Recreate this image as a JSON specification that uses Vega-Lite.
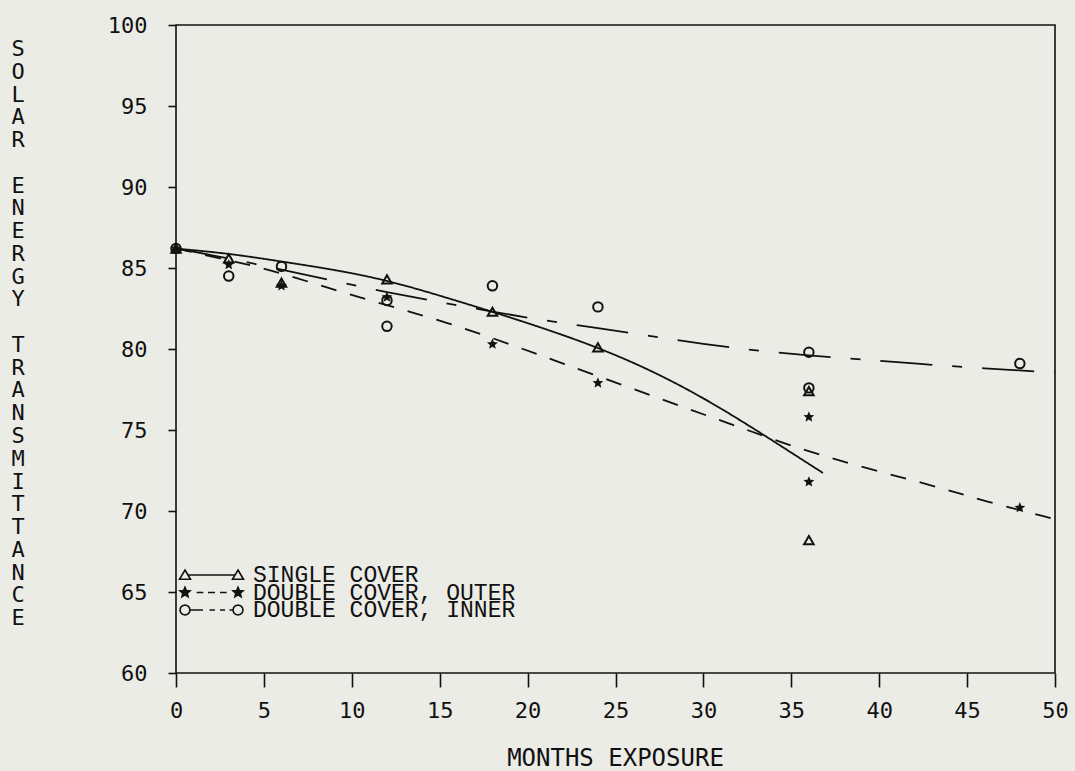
{
  "$schema": "https://vega.github.io/schema/vega-lite/v6.json",
  "width": 879,
  "height": 648,
  "autosize": {"type": "none"},
  "padding": {"left": 176, "top": 25, "right": 20, "bottom": 98},
  "background": "#ecece7",
  "config": {
    "view": {"stroke": "#111111", "strokeWidth": 1.6},
    "font": "DejaVu Sans Mono",
    "axis": {
      "domain": false,
      "grid": false,
      "tickColor": "#111111",
      "tickWidth": 1.6,
      "labelColor": "#111111",
      "titleColor": "#111111",
      "labelFont": "DejaVu Sans Mono",
      "titleFont": "DejaVu Sans Mono",
      "labelFontWeight": "normal",
      "titleFontWeight": "normal"
    },
    "legend": {
      "orient": "none",
      "title": null,
      "symbolSize": 100,
      "symbolStrokeColor": "#111111",
      "symbolFillColor": "transparent",
      "symbolStrokeWidth": 1.6,
      "symbolOpacity": 1,
      "symbolOffset": 24,
      "labelOffset": 30,
      "labelFontSize": 23,
      "labelFont": "Liberation Mono",
      "labelColor": "#111111",
      "labelLimit": 500,
      "clipHeight": 17.5,
      "rowPadding": 0,
      "padding": 0
    }
  },
  "datasets": {
    "curves": [
      {"series": "SINGLE COVER", "month": 0, "value": 86.2},
      {"series": "SINGLE COVER", "month": 3, "value": 85.9},
      {"series": "SINGLE COVER", "month": 6, "value": 85.4},
      {"series": "SINGLE COVER", "month": 9, "value": 84.9},
      {"series": "SINGLE COVER", "month": 12, "value": 84.25},
      {"series": "SINGLE COVER", "month": 15, "value": 83.3},
      {"series": "SINGLE COVER", "month": 18, "value": 82.3},
      {"series": "SINGLE COVER", "month": 21, "value": 81.25},
      {"series": "SINGLE COVER", "month": 24, "value": 80.1},
      {"series": "SINGLE COVER", "month": 27, "value": 78.7},
      {"series": "SINGLE COVER", "month": 30, "value": 77.0},
      {"series": "SINGLE COVER", "month": 33, "value": 75.0},
      {"series": "SINGLE COVER", "month": 35, "value": 73.6},
      {"series": "SINGLE COVER", "month": 36.8, "value": 72.35},
      {"series": "DOUBLE COVER, OUTER", "month": 0, "value": 86.2},
      {"series": "DOUBLE COVER, OUTER", "month": 2.5, "value": 85.6},
      {"series": "DOUBLE COVER, OUTER", "month": 5, "value": 85.0},
      {"series": "DOUBLE COVER, OUTER", "month": 8, "value": 84.0},
      {"series": "DOUBLE COVER, OUTER", "month": 11, "value": 83.0},
      {"series": "DOUBLE COVER, OUTER", "month": 15, "value": 81.8},
      {"series": "DOUBLE COVER, OUTER", "month": 19, "value": 80.3},
      {"series": "DOUBLE COVER, OUTER", "month": 22, "value": 79.1},
      {"series": "DOUBLE COVER, OUTER", "month": 25.6, "value": 77.7},
      {"series": "DOUBLE COVER, OUTER", "month": 29, "value": 76.35},
      {"series": "DOUBLE COVER, OUTER", "month": 32, "value": 75.2},
      {"series": "DOUBLE COVER, OUTER", "month": 35, "value": 74.0},
      {"series": "DOUBLE COVER, OUTER", "month": 39, "value": 72.7},
      {"series": "DOUBLE COVER, OUTER", "month": 43, "value": 71.6},
      {"series": "DOUBLE COVER, OUTER", "month": 46, "value": 70.6},
      {"series": "DOUBLE COVER, OUTER", "month": 50, "value": 69.5},
      {"series": "DOUBLE COVER, INNER", "month": 0, "value": 86.2},
      {"series": "DOUBLE COVER, INNER", "month": 3, "value": 85.6},
      {"series": "DOUBLE COVER, INNER", "month": 6, "value": 84.9},
      {"series": "DOUBLE COVER, INNER", "month": 9, "value": 84.2},
      {"series": "DOUBLE COVER, INNER", "month": 12, "value": 83.5},
      {"series": "DOUBLE COVER, INNER", "month": 15, "value": 82.9},
      {"series": "DOUBLE COVER, INNER", "month": 18, "value": 82.3},
      {"series": "DOUBLE COVER, INNER", "month": 21, "value": 81.75},
      {"series": "DOUBLE COVER, INNER", "month": 24, "value": 81.3},
      {"series": "DOUBLE COVER, INNER", "month": 27, "value": 80.8},
      {"series": "DOUBLE COVER, INNER", "month": 30, "value": 80.3},
      {"series": "DOUBLE COVER, INNER", "month": 33, "value": 79.9},
      {"series": "DOUBLE COVER, INNER", "month": 36, "value": 79.6},
      {"series": "DOUBLE COVER, INNER", "month": 39, "value": 79.35},
      {"series": "DOUBLE COVER, INNER", "month": 42, "value": 79.1},
      {"series": "DOUBLE COVER, INNER", "month": 46, "value": 78.8},
      {"series": "DOUBLE COVER, INNER", "month": 50, "value": 78.55}
    ],
    "marks": [
      {"series": "SINGLE COVER", "month": 0, "value": 86.2},
      {"series": "SINGLE COVER", "month": 3, "value": 85.6},
      {"series": "SINGLE COVER", "month": 6, "value": 84.1},
      {"series": "SINGLE COVER", "month": 12, "value": 84.3},
      {"series": "SINGLE COVER", "month": 18, "value": 82.3},
      {"series": "SINGLE COVER", "month": 24, "value": 80.1},
      {"series": "SINGLE COVER", "month": 36, "value": 77.4},
      {"series": "SINGLE COVER", "month": 36, "value": 68.2},
      {"series": "DOUBLE COVER, OUTER", "month": 0, "value": 86.2},
      {"series": "DOUBLE COVER, OUTER", "month": 3, "value": 85.2},
      {"series": "DOUBLE COVER, OUTER", "month": 6, "value": 83.9},
      {"series": "DOUBLE COVER, OUTER", "month": 12, "value": 83.2},
      {"series": "DOUBLE COVER, OUTER", "month": 18, "value": 80.3},
      {"series": "DOUBLE COVER, OUTER", "month": 24, "value": 77.9},
      {"series": "DOUBLE COVER, OUTER", "month": 36, "value": 75.8},
      {"series": "DOUBLE COVER, OUTER", "month": 36, "value": 71.8},
      {"series": "DOUBLE COVER, OUTER", "month": 48, "value": 70.2},
      {"series": "DOUBLE COVER, INNER", "month": 0, "value": 86.2},
      {"series": "DOUBLE COVER, INNER", "month": 3, "value": 84.5},
      {"series": "DOUBLE COVER, INNER", "month": 6, "value": 85.1},
      {"series": "DOUBLE COVER, INNER", "month": 12, "value": 83.0},
      {"series": "DOUBLE COVER, INNER", "month": 12, "value": 81.4},
      {"series": "DOUBLE COVER, INNER", "month": 18, "value": 83.9},
      {"series": "DOUBLE COVER, INNER", "month": 24, "value": 82.6},
      {"series": "DOUBLE COVER, INNER", "month": 36, "value": 79.8},
      {"series": "DOUBLE COVER, INNER", "month": 36, "value": 77.6},
      {"series": "DOUBLE COVER, INNER", "month": 48, "value": 79.1}
    ]
  },
  "layer": [
    {
      "data": {"name": "curves"},
      "mark": {"type": "line", "interpolate": "basis", "color": "#111111", "strokeWidth": 1.8},
      "encoding": {
        "x": {
          "field": "month", "type": "quantitative",
          "scale": {"domain": [0, 50], "nice": false, "zero": false},
          "axis": {
            "values": [0, 5, 10, 15, 20, 25, 30, 35, 40, 45, 50],
            "format": "d",
            "tickSize": 14,
            "labelPadding": 13,
            "labelFontSize": 22,
            "labelFlush": false,
            "labelOverlap": false,
            "title": "MONTHS EXPOSURE",
            "titleFontSize": 24,
            "titleX": 439,
            "titleY": 92.5,
            "titleAlign": "center",
            "titleBaseline": "alphabetic"
          }
        },
        "y": {
          "field": "value", "type": "quantitative",
          "scale": {"domain": [60, 100], "nice": false, "zero": false},
          "axis": {
            "values": [60, 65, 70, 75, 80, 85, 90, 95, 100],
            "format": "d",
            "tickSize": 8,
            "labelPadding": 21,
            "labelFontSize": 22,
            "labelFlush": false,
            "labelOverlap": false,
            "title": ["S", "O", "L", "A", "R", "\u200b", "E", "N", "E", "R", "G", "Y", "\u200b", "T", "R", "A", "N", "S", "M", "I", "T", "T", "A", "N", "C", "E"],
            "titleFontSize": 22,
            "titleAngle": 0,
            "titleAlign": "center",
            "titleBaseline": "top",
            "titleLineHeight": 22.76,
            "titleX": -158.5,
            "titleY": 13.6
          }
        },
        "strokeDash": {
          "field": "series", "type": "nominal",
          "scale": {
            "domain": ["SINGLE COVER", "DOUBLE COVER, OUTER", "DOUBLE COVER, INNER"],
            "range": [[1, 0], [16, 14], [52, 20, 10, 20]]
          },
          "legend": null
        }
      }
    },
    {
      "data": {"name": "marks"},
      "transform": [{"filter": "datum.series !== 'DOUBLE COVER, OUTER'"}],
      "mark": {"type": "point", "filled": false, "color": "#111111", "strokeWidth": 2, "opacity": 1, "size": 90},
      "encoding": {
        "x": {"field": "month", "type": "quantitative"},
        "y": {"field": "value", "type": "quantitative"},
        "shape": {
          "field": "series", "type": "nominal",
          "scale": {"domain": ["SINGLE COVER", "DOUBLE COVER, INNER"], "range": ["triangle-up", "circle"]},
          "legend": null
        }
      }
    },
    {
      "data": {"name": "marks"},
      "transform": [{"filter": "datum.series === 'DOUBLE COVER, OUTER'"}],
      "mark": {
        "type": "point", "filled": true, "color": "#111111", "opacity": 1, "size": 130,
        "shape": "M0,-1L0.2645,-0.364L0.951,-0.309L0.428,0.139L0.588,0.809L0,0.45L-0.588,0.809L-0.428,0.139L-0.951,-0.309L-0.2645,-0.364Z"
      },
      "encoding": {
        "x": {"field": "month", "type": "quantitative"},
        "y": {"field": "value", "type": "quantitative"}
      }
    },
    {
      "data": {"name": "marks"},
      "transform": [{"filter": "datum.series === 'SINGLE COVER'"}],
      "mark": {"type": "point", "filled": false, "color": "#111111", "opacity": 0, "size": 100},
      "encoding": {
        "x": {"field": "month", "type": "quantitative"},
        "y": {"field": "value", "type": "quantitative"},
        "shape": {
          "field": "series", "type": "nominal",
          "scale": {
            "domain": ["SINGLE COVER"],
            "range": ["M-5.3,-1L-4.2,0.85L-6.4,0.85ZM5.3,-1L6.4,0.85L4.2,0.85ZM-4.7,0L4.7,0"]
          },
          "legend": {"legendX": 0, "legendY": 541.25}
        }
      }
    },
    {
      "data": {"name": "marks"},
      "transform": [{"filter": "datum.series === 'DOUBLE COVER, OUTER'"}],
      "mark": {"type": "point", "filled": false, "color": "#111111", "opacity": 0, "size": 100},
      "encoding": {
        "x": {"field": "month", "type": "quantitative"},
        "y": {"field": "value", "type": "quantitative"},
        "shape": {
          "field": "series", "type": "nominal",
          "scale": {
            "domain": ["DOUBLE COVER, OUTER"],
            "range": ["M-5.3,-1.05L-5.022,-0.382L-4.301,-0.324L-4.851,0.146L-4.683,0.849L-5.3,0.473L-5.917,0.849L-5.749,0.146L-6.299,-0.324L-5.578,-0.382ZM-5.3,-0.5L-5.168,-0.182L-4.825,-0.155L-5.086,0.07L-5.006,0.405L-5.3,0.225L-5.594,0.405L-5.514,0.07L-5.776,-0.155L-5.432,-0.182ZM-5.4,0L-5.2,0M5.3,-1.05L5.578,-0.382L6.299,-0.324L5.749,0.146L5.917,0.849L5.3,0.473L4.683,0.849L4.851,0.146L4.301,-0.324L5.022,-0.382ZM5.3,-0.5L5.432,-0.182L5.776,-0.155L5.514,0.07L5.594,0.405L5.3,0.225L5.006,0.405L5.086,0.07L4.825,-0.155L5.168,-0.182ZM5.2,0L5.4,0M-2.96,0L-1.64,0M-0.7,0L0.7,0M1.7,0L3.04,0"]
          },
          "legend": {"legendX": 0, "legendY": 558.75}
        }
      }
    },
    {
      "data": {"name": "marks"},
      "transform": [{"filter": "datum.series === 'DOUBLE COVER, INNER'"}],
      "mark": {"type": "point", "filled": false, "color": "#111111", "opacity": 0, "size": 100},
      "encoding": {
        "x": {"field": "month", "type": "quantitative"},
        "y": {"field": "value", "type": "quantitative"},
        "shape": {
          "field": "series", "type": "nominal",
          "scale": {
            "domain": ["DOUBLE COVER, INNER"],
            "range": ["M-4.3,0L-4.434,0.5L-4.8,0.866L-5.3,1L-5.8,0.866L-6.166,0.5L-6.3,0L-6.166,-0.5L-5.8,-0.866L-5.3,-1L-4.8,-0.866L-4.434,-0.5ZM6.3,0L6.166,0.5L5.8,0.866L5.3,1L4.8,0.866L4.434,0.5L4.3,0L4.434,-0.5L4.8,-0.866L5.3,-1L5.8,-0.866L6.166,-0.5ZM-4.3,0L-1.7,0M-0.4,0L0.7,0M1.7,0L2.7,0M3.6,0L4.3,0"]
          },
          "legend": {"legendX": 0, "legendY": 576.25}
        }
      }
    }
  ],
  "resolve": {"scale": {"shape": "independent", "strokeDash": "independent"}}
}
